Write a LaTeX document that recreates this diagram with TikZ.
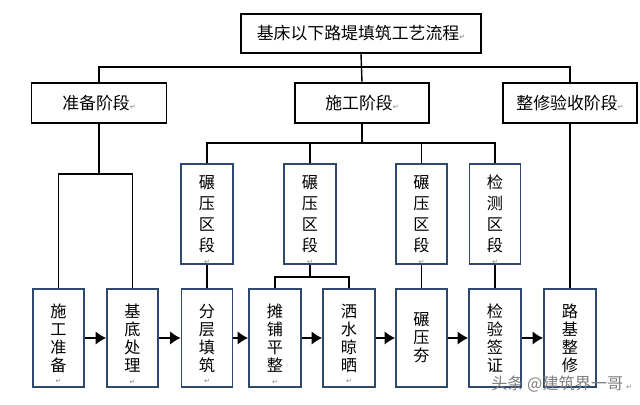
\documentclass[tikz,border=0pt]{standalone}
\usepackage{fontspec}
\newfontfamily\cjk{Noto Sans CJK SC}
\newfontfamily\djv{DejaVu Sans}
\usetikzlibrary{arrows.meta}
\definecolor{bx}{RGB}{47,72,110}
\newcommand{\retmark}{{\djv\fontsize{5}{5}\selectfont\color{gray}↵}}
\newcommand{\retbelow}{\llap{\smash{\raisebox{-9pt}{\makebox[1em]{\retmark}}}}}
\tikzset{
  blk/.style={draw=black, line width=1.3pt, font=\cjk\fontsize{12}{14}\selectfont, inner sep=0pt},
  blu/.style={draw=bx, line width=1.2pt, font=\cjk\fontsize{11.5}{15}\selectfont, align=center, inner sep=0pt},
  blu4/.style={blu, font=\cjk\fontsize{11.5}{12.8}\selectfont},
  sz/.style 2 args={minimum width=#1*0.025cm, minimum height=#2*0.025cm},
  ln/.style={line width=1pt},
  arr/.style={-{Latex[length=7.5pt,width=9.5pt]}, line width=1pt}
}
\begin{document}
\begin{tikzpicture}[x=0.025cm, y=-0.025cm]
\useasboundingbox[fill=white] (0,0) rectangle (640,405);
% top
\node[blk, sz={240}{39}] (top) at (361,33.5) {基床以下路堤填筑工艺流程\retmark};
% row 2
\node[blk, sz={135}{40}] (prep) at (99,103) {准备阶段\retmark};
\node[blk, sz={134}{40}] (cons) at (362,103) {施工阶段\retmark};
\node[blk, sz={134}{40}] (fin) at (570,103) {整修验收阶段\retmark};
% row 3
\node[blu, sz={52}{100}] (r1) at (207,214) {碾\\压\\区\\段\retbelow};
\node[blu, sz={52}{100}] (r2) at (310,214) {碾\\压\\区\\段\retbelow};
\node[blu, sz={51}{100}] (r3) at (421.5,214) {碾\\压\\区\\段\retbelow};
\node[blu, sz={51}{100}] (r4) at (495,214) {检\\测\\区\\段\retbelow};
% row 4
\node[blu4, sz={51}{98}] (a) at (58.5,338) {施\\工\\准\\备\retbelow};
\node[blu4, sz={51}{98}] (b) at (132.5,338) {基\\底\\处\\理\retbelow};
\node[blu4, sz={51}{98}] (c) at (207,338) {分\\层\\填\\筑\retbelow};
\node[blu4, sz={52}{98}] (d) at (275,338) {摊\\铺\\平\\整\retbelow};
\node[blu4, sz={52}{98}] (e) at (349,338) {洒\\水\\晾\\晒\retbelow};
\node[blu4, sz={51}{98}] (f) at (421.5,338) {碾\\压\\夯};
\node[blu4, sz={52}{98}] (g) at (495,338) {检\\验\\签\\证};
\node[blu4, sz={52}{98}] (h) at (570,338) {路\\基\\整\\修};
% bus coordinates
\coordinate (b1) at (0,67);
\coordinate (b2) at (0,174);
\coordinate (b3) at (0,143);
\coordinate (b4) at (0,277);
% connectors
\draw[ln] (top.south) -- (cons.north);
\draw[ln] (prep.north) -- (prep.north |- b1) -- (fin.north |- b1) -- (fin.north);
\draw[ln] (prep.south) -- (prep.south |- b2);
\draw[ln] (a.north) -- (a.north |- b2) -- (b.north |- b2) -- (b.north);
\draw[ln] (fin.south) -- (h.north);
\draw[ln] (cons.south) -- (cons.south |- b3);
\draw[ln] (r1.north) -- (r1.north |- b3) -- (r4.north |- b3) -- (r4.north);
\draw[ln] (r2.north) -- (r2.north |- b3);
\draw[ln] (r3.north) -- (r3.north |- b3);
\draw[ln] (r1.south) -- (c.north);
\draw[ln] (r3.south) -- (f.north);
\draw[ln] (r4.south) -- (g.north);
\draw[ln] (r2.south) -- (r2.south |- b4);
\draw[ln] (d.north) -- (d.north |- b4) -- (e.north |- b4) -- (e.north);
% arrows
\draw[arr] (a.east) -- (b.west);
\draw[arr] (b.east) -- (c.west);
\draw[arr] (c.east) -- (d.west);
\draw[arr] (d.east) -- (e.west);
\draw[arr] (e.east) -- (f.west);
\draw[arr] (f.east) -- (g.west);
\draw[arr] (g.east) -- (h.west);
% watermark
\node[font=\cjk\fontsize{11.5}{12}\selectfont, text=gray, inner sep=0pt, anchor=west] (wm) at (491,384) {头条 @建筑界一哥\,\retmark};
\end{tikzpicture}
\end{document}
